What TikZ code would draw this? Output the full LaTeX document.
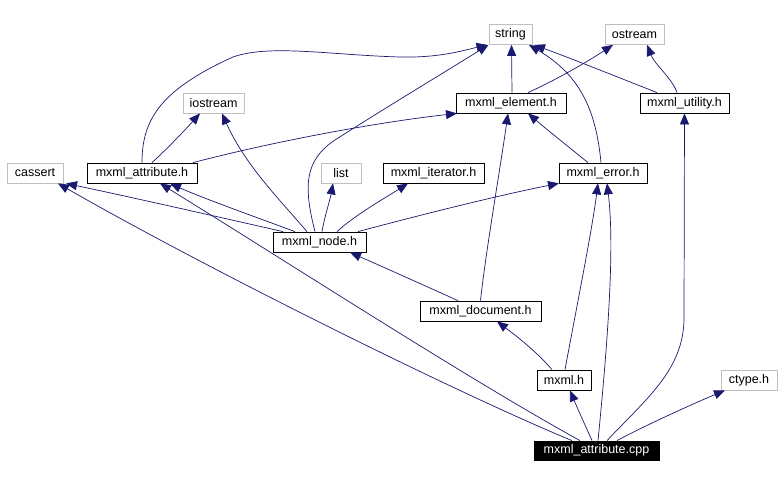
\documentclass[tikz,border=0pt]{standalone}
\usepackage{fontspec}
\setmainfont{Liberation Sans}
\usetikzlibrary{arrows.meta}
\definecolor{edgec}{HTML}{191970}
\definecolor{grayb}{HTML}{BFBFBF}
\tikzset{
  box/.style={draw=black, line width=0.8pt, rectangle, inner sep=0pt, minimum height=20pt, font=\fontsize{12.5}{14}\selectfont, fill=white},
  sysbox/.style={box, draw=grayb},
  mainbox/.style={box, fill=black, text=white, minimum height=19pt},
  dep/.style={draw=edgec, line width=0.7pt, -{Triangle[length=11pt,width=9pt]}, fill=none},
}
\begin{document}
\begin{tikzpicture}[x=1pt,y=-1pt]
\useasboundingbox (0,0) rectangle (780,477);
\fill[white] (0,0) rectangle (780,477);
% nodes
\node[sysbox, minimum width=43pt] (string) at (510.5,34.5) {string};
\node[sysbox, minimum width=59pt] (ostream) at (634.5,34.5) {ostream};
\node[sysbox, minimum width=61pt] (iostream) at (213.5,103) {iostream};
\node[box, minimum width=110pt] (element) at (511,103) {mxml\_element.h};
\node[box, minimum width=89pt] (utility) at (684.5,103) {mxml\_utility.h};
\node[sysbox, minimum width=56pt] (cassert) at (35,173) {cassert};
\node[box, minimum width=110pt] (attrh) at (142,173) {mxml\_attribute.h};
\node[sysbox, minimum width=40pt] (list) at (341,173) {list};
\node[box, minimum width=101pt] (iterator) at (433.5,173) {mxml\_iterator.h};
\node[box, minimum width=88pt] (error) at (603,173) {mxml\_error.h};
\node[box, minimum width=93pt] (node) at (319.5,242) {mxml\_node.h};
\node[box, minimum width=121pt] (document) at (480.5,311) {mxml\_document.h};
\node[box, minimum width=54pt] (mxmlh) at (564,380) {mxml.h};
\node[sysbox, minimum width=56pt] (ctype) at (749,380) {ctype.h};
\node[mainbox, minimum width=125pt] (cpp) at (596.5,450.5) {mxml\_attribute.cpp};
% edges from cpp
\draw[dep] ([xshift=-4.5pt]cpp.north) .. controls (585,425) and (576,405) .. ([xshift=6pt]mxmlh.south);
\draw[dep] ([xshift=20.5pt]cpp.north) .. controls (640,428) and (690,405) .. ([xshift=-24pt]ctype.south);
\draw[dep] ([xshift=10.5pt]cpp.north) .. controls (645,400) and (684,370) .. (684,318) -- (utility.south);
\draw[dep] ([xshift=1.5pt]cpp.north) .. controls (610,320) and (614,240) .. ([xshift=4pt]error.south);
\draw[dep] ([xshift=-24.5pt]cpp.north) .. controls (450,390) and (200,265) .. ([xshift=23pt]cassert.south);
\draw[dep] ([xshift=-16.5pt]cpp.north) .. controls (470,380) and (300,270) .. ([xshift=18pt]attrh.south);
% mxml.h
\draw[dep] ([xshift=1pt]mxmlh.north) .. controls (578,300) and (592,230) .. ([xshift=-5pt]error.south);
\draw[dep] ([xshift=-12pt]mxmlh.north) .. controls (535,350) and (515,335) .. ([xshift=16.5pt]document.south);
% document
\draw[dep] (document.north) .. controls (486,250) and (500,170) .. ([xshift=-3pt]element.south);
\draw[dep] ([xshift=-22.5pt]document.north) .. controls (430,288) and (390,270) .. ([xshift=30.5pt]node.south);
% node
\draw[dep] ([xshift=-36.5pt]node.north) .. controls (210,215) and (130,197) .. ([xshift=31pt]cassert.south);
\draw[dep] ([xshift=-24.5pt]node.north) .. controls (250,215) and (200,197) .. ([xshift=28pt]attrh.south);
\draw[dep] ([xshift=-12.5pt]node.north) .. controls (280,200) and (245,165) .. ([xshift=8.5pt]iostream.south);
\draw[dep] ([xshift=-4.5pt]node.north) .. controls (303,185) and (305,160) .. (335,140) .. controls (390,105) and (440,75) .. ([xshift=-22pt]string.south);
\draw[dep] ([xshift=2.5pt]node.north) .. controls (325,215) and (330,200) .. ([xshift=-8pt]list.south);
\draw[dep] ([xshift=17.5pt]node.north) .. controls (355,215) and (385,198) .. ([xshift=-25.5pt]iterator.south);
\draw[dep] ([xshift=38.5pt]node.north) .. controls (420,215) and (500,195) .. ([xshift=-44pt]error.south);
% attribute.h
\draw[dep] ([xshift=10pt]attrh.north) .. controls (168,148) and (185,130) .. ([xshift=-13.5pt]iostream.south);
\draw[dep] (attrh.north) .. controls (142,120) and (160,90) .. (233,57) .. controls (270,44) and (330,55) .. (400,57) .. controls (440,58) and (465,50) .. ([xshift=-23pt]string.south);
\draw[dep] ([xshift=51pt]attrh.north) .. controls (280,140) and (380,122) .. ([xshift=-54pt]element.south);
% element
\draw[dep] ([xshift=1pt]element.north) -- ([xshift=1pt]string.south);
\draw[dep] ([xshift=17pt]element.north) .. controls (560,78) and (590,60) .. ([xshift=-21.5pt]ostream.south);
% error
\draw[dep] ([xshift=-15pt]error.north) .. controls (570,148) and (545,128) .. ([xshift=17pt]element.south);
\draw[dep] ([xshift=-2pt]error.north) .. controls (596,110) and (580,75) .. ([xshift=18.5pt]string.south);
% utility
\draw[dep] ([xshift=-27.5pt]utility.north) .. controls (620,78) and (570,58) .. ([xshift=23.5pt]string.south);
\draw[dep] ([xshift=-7.5pt]utility.north) .. controls (672,78) and (655,65) .. ([xshift=12.5pt]ostream.south);
\end{tikzpicture}
\end{document}
